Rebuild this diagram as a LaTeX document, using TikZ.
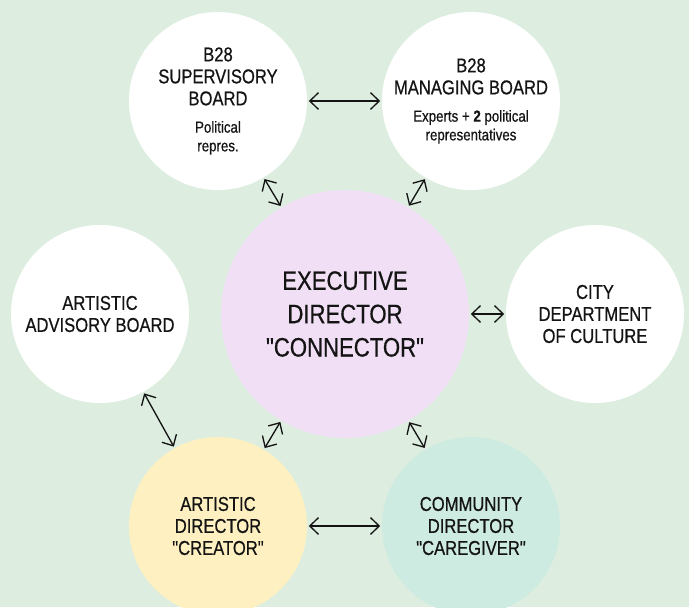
\documentclass[tikz,border=0pt]{standalone}
\usepackage{fontspec}
\setmainfont{Liberation Sans}[FakeStretch=0.83, FakeBold=0.6, Ligatures=TeXOff]
\usetikzlibrary{arrows.meta}

\definecolor{bgGreen}{RGB}{221,238,224}
\definecolor{hubPurple}{RGB}{241,224,245}
\definecolor{creatorYellow}{RGB}{254,240,192}
\definecolor{careMint}{RGB}{206,235,225}
\definecolor{inkDark}{RGB}{20,20,20}

\newcommand{\boardfont}{\fontsize{15}{16.5}\selectfont}
\newcommand{\hubfont}{\fontsize{20}{25}\selectfont}
\newcommand{\notefont}{\fontsize{12}{13}\selectfont}

\tikzset{every picture/.style={line width=0.75pt}}
\tikzset{
  board/.style={circle, inner sep=0pt, minimum size=133.5pt, fill=white,
    align=center, text=inkDark, font=\boardfont},
  hub/.style={board, minimum size=186pt, fill=hubPurple, font=\hubfont},
  link/.style={{Straight Barb[length=6.5pt,width=12.5pt]}-{Straight Barb[length=6.5pt,width=12.5pt]},
    line width=1pt, draw=inkDark, shorten >=1pt, shorten <=1pt}
}

\begin{document}
\begin{tikzpicture}[x=0.75pt,y=0.75pt,yscale=-1,xscale=1]
%Background
\fill[bgGreen] (0,0) rectangle (689,607);
\useasboundingbox (0,0) rectangle (689,607);

%Shape: Circle [exec]
\node[hub] (exec) at (345,314) {EXECUTIVE\\DIRECTOR\\"CONNECTOR"};
%Shape: Circle [sup]
\node[board] (sup) at (218,101) {B28\\SUPERVISORY\\BOARD\\[4pt]\notefont Political\\[-2.5pt]\notefont repres.};
%Shape: Circle [man]
\node[board] (man) at (471,101) {B28\\MANAGING BOARD\\[4pt]\notefont Experts + \textbf{2} political\\[-2.5pt]\notefont representatives};
%Shape: Circle [adv]
\node[board] (adv) at (100,314) {ARTISTIC\\ADVISORY BOARD};
%Shape: Circle [city]
\node[board] (city) at (595,314) {CITY\\DEPARTMENT\\OF CULTURE};
%Shape: Circle [creator]
\node[board, fill=creatorYellow] (creator) at (218,526) {ARTISTIC\\DIRECTOR\\"CREATOR"};
%Shape: Circle [care]
\node[board, fill=careMint] (care) at (471,526) {COMMUNITY\\DIRECTOR\\"CAREGIVER"};

%Straight Lines
\draw[link] (sup) -- (man);
\draw[link] (sup) -- (exec);
\draw[link] (man) -- (exec);
\draw[link] (exec) -- (city);
\draw[link] (adv) -- (creator);
\draw[link] (exec) -- (creator);
\draw[link] (exec) -- (care);
\draw[link] (creator) -- (care);

\end{tikzpicture}
\end{document}
